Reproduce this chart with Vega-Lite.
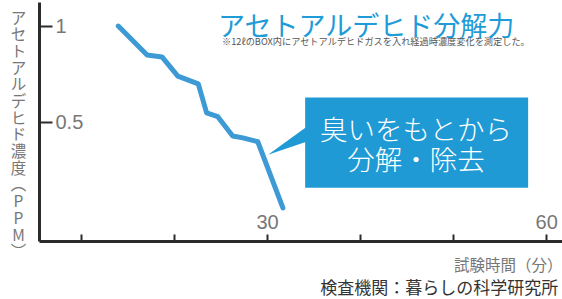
{
  "$schema": "https://vega.github.io/schema/vega-lite/v6.json",
  "autosize": "none",
  "width": 523,
  "height": 239,
  "padding": {"left": 39, "top": 2, "right": 0, "bottom": 58},
  "background": "white",
  "config": {
    "view": {"stroke": null},
    "font": "Noto Sans CJK JP",
    "axis": {"grid": false}
  },
  "datasets": {
    "series": [
      {"time": 14.0, "ppm": 1.0},
      {"time": 17.1, "ppm": 0.85},
      {"time": 18.7, "ppm": 0.84},
      {"time": 20.4, "ppm": 0.74},
      {"time": 22.6, "ppm": 0.70},
      {"time": 23.5, "ppm": 0.55},
      {"time": 24.7, "ppm": 0.53},
      {"time": 26.3, "ppm": 0.43},
      {"time": 27.4, "ppm": 0.42},
      {"time": 29.0, "ppm": 0.40},
      {"time": 31.7, "ppm": 0.057}
    ]
  },
  "layer": [
    {
      "data": {"name": "series"},
      "mark": {"type": "line", "color": "#3d9ad4", "strokeWidth": 5, "strokeCap": "round", "strokeJoin": "round"},
      "encoding": {
        "x": {
          "field": "time", "type": "quantitative",
          "scale": {"domain": [5.48, 61.7], "nice": false, "zero": false},
          "axis": {
            "values": [10, 20, 30, 40, 50, 60],
            "labelExpr": "datum.value % 30 == 0 ? datum.label : ''",
            "domainColor": "#2b2b2b", "domainWidth": 3,
            "tickColor": "#2b2b2b", "tickWidth": 2, "tickSize": -7,
            "labelPadding": -12, "labelBaseline": "middle",
            "labelFontSize": 20, "labelColor": "#777777", "labelFont": "Liberation Sans",
            "labelFlush": false, "labelOverlap": false,
            "title": "試験時間（分）",
            "titleFontSize": 15.5, "titleColor": "#777777", "titleFontWeight": "normal",
            "titleAlign": "right", "titleAnchor": "end", "titleX": 523, "titleY": 24, "titleBaseline": "middle"
          }
        },
        "y": {
          "field": "ppm", "type": "quantitative",
          "scale": {"domain": [-0.115, 1.125], "nice": false, "zero": false},
          "axis": {
            "values": [0.5, 1],
            "labelExpr": "datum.value == 1 ? '1' : '0.5'",
            "domainColor": "#2b2b2b", "domainWidth": 3,
            "tickColor": "#2b2b2b", "tickWidth": 2, "tickSize": -13,
            "labelPadding": -3, "labelAlign": "left", "labelBaseline": "middle",
            "labelFontSize": 20, "labelColor": "#777777", "labelFont": "Liberation Sans",
            "title": ["ア","セ","ト","ア","ル","デ","ヒ","ド","濃","度","︵","P","P","M","︶"],
            "titleAngle": 0, "titleFontSize": 15.5, "titleLineHeight": 16.7,
            "titleColor": "#777777", "titleFontWeight": "normal",
            "titleAlign": "center", "titleBaseline": "top", "titleX": -21, "titleY": 9
          }
        }
      }
    },
    {
      "data": {"values": [
        {"time": 30.1, "top": 0.333, "bottom": 0.333},
        {"time": 34.3, "top": 0.479, "bottom": 0.401}
      ]},
      "mark": {"type": "area", "color": "#1f9ad5", "opacity": 1},
      "encoding": {
        "x": {"field": "time", "type": "quantitative"},
        "y": {"field": "top", "type": "quantitative"},
        "y2": {"field": "bottom"}
      }
    },
    {
      "data": {"values": [{"x1": 34.09, "x2": 58.06, "y1": 0.630, "y2": 0.161}]},
      "mark": {"type": "rect", "color": "#1f9ad5"},
      "encoding": {
        "x": {"field": "x1", "type": "quantitative"},
        "x2": {"field": "x2"},
        "y": {"field": "y1", "type": "quantitative"},
        "y2": {"field": "y2"}
      }
    },
    {
      "data": {"values": [
        {"time": 46.0, "ppm": 0.452, "label": "臭いをもとから"},
        {"time": 46.0, "ppm": 0.296, "label": "分解・除去"}
      ]},
      "mark": {"type": "text", "color": "white", "fontSize": 27.5, "fontWeight": 300, "align": "center", "baseline": "middle"},
      "encoding": {
        "x": {"field": "time", "type": "quantitative"},
        "y": {"field": "ppm", "type": "quantitative"},
        "text": {"field": "label"}
      }
    },
    {
      "data": {"values": [{"time": 24.73, "ppm": 0.99, "label": "アセトアルデヒド分解力"}]},
      "mark": {"type": "text", "color": "#1f9bd7", "fontSize": 27, "fontWeight": "normal", "align": "left", "baseline": "middle"},
      "encoding": {
        "x": {"field": "time", "type": "quantitative"},
        "y": {"field": "ppm", "type": "quantitative"},
        "text": {"field": "label"}
      }
    },
    {
      "data": {"values": [{"time": 25.16, "ppm": 0.917, "label": "※12ℓのBOX内にアセトアルデヒドガスを入れ経過時濃度変化を測定した。"}]},
      "mark": {"type": "text", "color": "#555555", "fontSize": 9.2, "align": "left", "baseline": "middle"},
      "encoding": {
        "x": {"field": "time", "type": "quantitative"},
        "y": {"field": "ppm", "type": "quantitative"},
        "text": {"field": "label"}
      }
    },
    {
      "data": {"values": [{"time": 61.3, "ppm": -0.364, "label": "検査機関：暮らしの科学研究所"}]},
      "mark": {"type": "text", "color": "#333333", "fontSize": 17, "align": "right", "baseline": "middle"},
      "encoding": {
        "x": {"field": "time", "type": "quantitative"},
        "y": {"field": "ppm", "type": "quantitative"},
        "text": {"field": "label"}
      }
    }
  ]
}
